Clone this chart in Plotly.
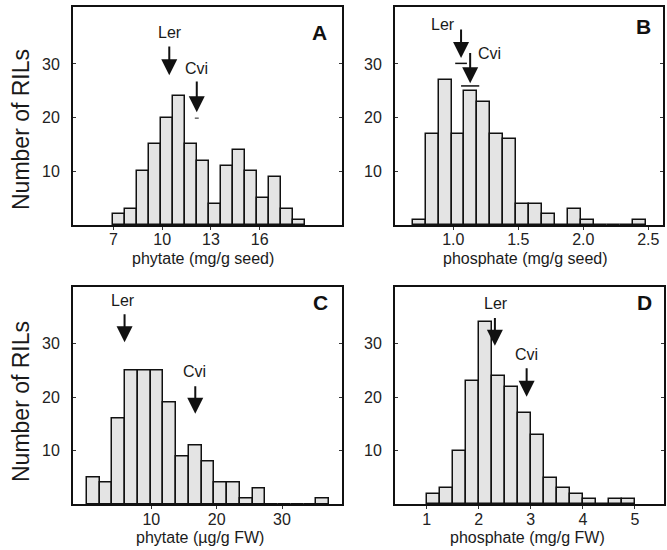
import plotly.graph_objects as go

W, H = 667, 550

# ---------------- data ----------------
# Panel A: phytate (mg/g seed)
a_bin_start = 6.96
a_bin_width = 0.74
a_counts = [2, 3, 10, 15, 20, 24, 15, 12, 4, 11, 14, 10, 5, 9, 3, 1]
a_ticks = [7, 10, 13, 16]
a_ler, a_cvi = 10.44, 12.13

# Panel B: phosphate (mg/g seed)
b_bin_start = 0.688
b_bin_width = 0.0995
b_counts = [1, 17, 27, 17, 25, 23, 17, 16, 4, 4, 2, 0, 3, 1, 0, 0, 0, 1]
b_ticks = [1.0, 1.5, 2.0, 2.5]
b_tick_labels = ["1.0", "1.5", "2.0", "2.5"]
b_ler, b_cvi = 1.06, 1.13
b_ler_err, b_cvi_err = 0.045, 0.07

# Panel C: phytate (µg/g FW)
c_bin_start = 0.15
c_bin_width = 1.95
c_counts = [5, 4, 16, 25, 25, 25, 19, 9, 11, 8, 4, 4, 1, 3, 0, 0, 0, 0, 1]
c_ticks = [10, 20, 30]
c_ler, c_cvi = 5.91, 16.73

# Panel D: phosphate (mg/g FW)
d_bin_start = 1.0
d_bin_width = 0.25
d_counts = [2, 3, 10, 23, 34, 24, 22, 17, 13, 5, 3, 2, 1, 0, 1, 1]
d_ticks = [1, 2, 3, 4, 5]
d_ler, d_cvi = 2.31, 2.92

y_ticks = [10, 20, 30]

FONT = "Liberation Sans, Arial, Helvetica, sans-serif"
BAR_FILL = "#e4e4e4"

fig = go.Figure()


def px_x(p):
    return p / W


def px_y(p):
    return 1 - p / H


panels = [
    ("A", a_bin_start, a_bin_width, a_counts, "x", "y", (73, 342), (7, 225), [4.52, 21.06]),
    ("B", b_bin_start, b_bin_width, b_counts, "x2", "y2", (395, 663), (7, 225), [0.552, 2.613]),
    ("C", c_bin_start, c_bin_width, c_counts, "x3", "y3", (73, 342), (286.5, 504.3), [-1.98, 39.18]),
    ("D", d_bin_start, d_bin_width, d_counts, "x4", "y4", (395, 664), (287, 504.3), [0.39, 5.56]),
]

for name, start, width, counts, xa, ya, dx, dy, xr in panels:
    centers = [start + width * (i + 0.5) for i in range(len(counts))]
    fig.add_trace(go.Bar(
        x=centers, y=counts, width=[width] * len(counts),
        marker=dict(color=BAR_FILL, line=dict(color="#111111", width=1.5)),
        xaxis=xa, yaxis=ya, showlegend=False, hoverinfo="skip",
    ))

# error-bar marks
fig.add_trace(go.Scatter(
    x=[b_ler, b_cvi], y=[30.1, 25.9], mode="markers",
    marker=dict(size=0.1, color="black"),
    error_x=dict(type="data", array=[b_ler_err, b_cvi_err], color="#111111",
                 thickness=1.5, width=0),
    xaxis="x2", yaxis="y2", showlegend=False, hoverinfo="skip",
))
fig.add_trace(go.Scatter(
    x=[a_cvi], y=[19.9], mode="markers",
    marker=dict(size=0.1, color="black"),
    error_x=dict(type="data", array=[0.12], color="#444444", thickness=1.2, width=0),
    xaxis="x", yaxis="y", showlegend=False, hoverinfo="skip",
))

layout = dict(
    width=W, height=H,
    margin=dict(l=0, r=0, t=0, b=0),
    paper_bgcolor="white", plot_bgcolor="white",
    font=dict(family=FONT, color="#1a1a1a", size=15),
    bargap=0,
)

axis_ids = ["", "2", "3", "4"]
xticks = [(a_ticks, [str(t) for t in a_ticks]), (b_ticks, b_tick_labels),
          (c_ticks, [str(t) for t in c_ticks]), (d_ticks, [str(t) for t in d_ticks])]
for (name, start, width, counts, xa, ya, dx, dy, xr), aid, (tv, tt) in zip(panels, axis_ids, xticks):
    xd = [px_x(dx[0]), px_x(dx[1])]
    yd = [px_y(dy[1]), px_y(dy[0])]
    layout["xaxis" + aid] = dict(
        domain=xd, range=xr, anchor="y" + aid,
        showline=True, linecolor="#111111", linewidth=2, mirror=True,
        ticks="outside", ticklen=3, tickwidth=1, tickcolor="#333333",
        tickvals=tv, ticktext=tt, showgrid=False, zeroline=False,
        ticklabelstandoff=-4,
        tickfont=dict(size=16, family=FONT, color="#222222"),
    )
    layout["yaxis" + aid] = dict(
        domain=yd, range=[0, 40.6], anchor="x" + aid,
        showline=True, linecolor="#111111", linewidth=2, mirror="ticks",
        ticks="inside", ticklen=3, tickwidth=1, tickcolor="#333333",
        tickvals=y_ticks, showgrid=False, zeroline=False,
        ticklabelstandoff=8,
        tickfont=dict(size=16, family=FONT, color="#222222"),
    )

fig.update_layout(**layout)

ann = []

# x-axis titles
for text, cx, cy in [("phytate (mg/g seed)", 203, 258),
                     ("phosphate (mg/g seed)", 525, 258),
                     ("phytate (µg/g FW)", 200, 537),
                     ("phosphate (mg/g FW)", 527, 537)]:
    ann.append(dict(text=text, x=px_x(cx), y=px_y(cy), xref="paper", yref="paper",
                    xanchor="center", yanchor="middle", showarrow=False,
                    font=dict(size=16, family=FONT, color="#1a1a1a")))

# y-axis titles
for cy in [130, 402]:
    ann.append(dict(text="Number of RILs", x=px_x(21), y=px_y(cy), xref="paper", yref="paper",
                    xanchor="center", yanchor="middle", showarrow=False, textangle=-90,
                    font=dict(size=23, family=FONT, color="#1a1a1a")))

# panel letters
for letter, x, y, xr, yr in [("A", 19.7, 35.8, "x", "y"), ("B", 2.46, 36.9, "x2", "y2"),
                             ("C", 35.9, 37.7, "x3", "y3"), ("D", 5.19, 37.7, "x4", "y4")]:
    ann.append(dict(text="<b>%s</b>" % letter, x=x, y=y, xref=xr, yref=yr,
                    xanchor="center", yanchor="middle", showarrow=False,
                    font=dict(size=21, family=FONT, color="#111111")))

# parental arrows: (x, tail y, tip y, label, label x, label y, axes)
arrows = [
    (a_ler, 33.5, 27.9, "Ler", a_ler + 0.05, 35.8, "x", "y"),
    (a_cvi, 27.0, 21.0, "Cvi", a_cvi, 29.2, "x", "y"),
    (b_ler, 36.7, 31.1, "Ler", 0.92, 37.4, "x2", "y2"),
    (b_cvi, 32.3, 26.4, "Cvi", 1.275, 32.0, "x2", "y2"),
    (c_ler, 35.7, 30.2, "Ler", c_ler - 0.2, 37.9, "x3", "y3"),
    (c_cvi, 22.3, 16.9, "Cvi", c_cvi - 0.1, 24.8, "x3", "y3"),
    (d_ler, 35.1, 29.6, "Ler", d_ler + 0.02, 37.6, "x4", "y4"),
    (d_cvi, 25.7, 20.1, "Cvi", d_cvi, 27.9, "x4", "y4"),
]
for x, ytail, ytip, lab, lx, ly, xr, yr in arrows:
    ann.append(dict(x=x, y=ytip, ax=x, ay=ytail, xref=xr, yref=yr, axref=xr, ayref=yr,
                    showarrow=True, arrowhead=2, arrowsize=1.6, arrowwidth=2,
                    arrowcolor="#111111", text=""))
    ann.append(dict(text=lab, x=lx, y=ly, xref=xr, yref=yr, xanchor="center",
                    yanchor="middle", showarrow=False,
                    font=dict(size=16, family=FONT, color="#1a1a1a")))

fig.update_layout(annotations=ann)

fig.write_html(
    "out.html",
    config={"displayModeBar": False},
    post_script="document.body.style.margin='0';document.body.style.padding='0';"
                "document.body.style.overflow='hidden';",
)
